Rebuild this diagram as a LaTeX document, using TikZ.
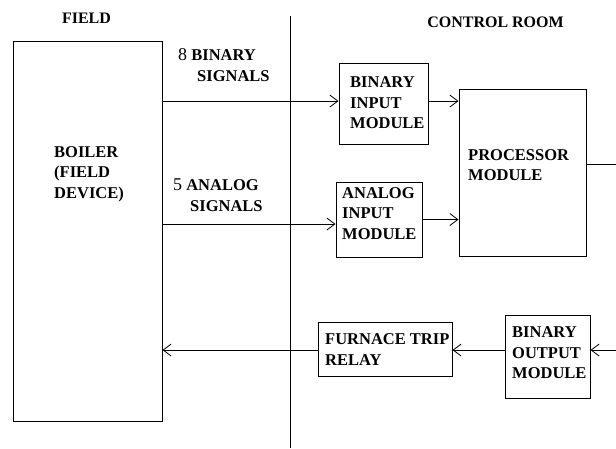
\documentclass[tikz,border=0pt]{standalone}
\usepackage{fontspec}
\setmainfont{Liberation Serif}
\usetikzlibrary{arrows.meta,calc}
\tikzset{
  box/.style={draw, line width=1pt, minimum width=#1, inner sep=0pt},
  txt/.style={font=\bfseries\fontsize{16.5}{20.5}\selectfont, align=left, anchor=west, inner sep=0pt},
  ttl/.style={font=\bfseries\fontsize{16}{18}\selectfont, inner sep=0pt},
  conn/.style={line width=1pt},
  arr/.style={line width=1pt, -{Straight Barb[length=8pt,width=12pt,line width=0.8pt]}},
}
\newcommand{\dig}[1]{{\mdseries\fontsize{18}{18}\selectfont #1}}
\begin{document}
\begin{tikzpicture}[x=1pt,y=-1pt]
\useasboundingbox (0,0) rectangle (616,448);
% titles
\node[ttl] (tfield) at (86.5,18) {FIELD};
\node[ttl] (tcr) at (495.5,22) {CONTROL ROOM};
% divider
\coordinate (dtop) at (290,16);
\coordinate (dbot) at (290,448);
\draw[conn] (dtop) -- (dbot);
% boxes
\node[box=149pt, minimum height=380pt] (boiler) at (87.5,231) {};
\node[box=89pt, minimum height=81pt] (bim) at (383.5,103.5) {};
\node[box=127pt, minimum height=167pt] (proc) at (522.5,172.5) {};
\node[box=86pt, minimum height=75pt] (aim) at (379,219.5) {};
\node[box=134pt, minimum height=54pt] (ftr) at (385,349) {};
\node[box=85pt, minimum height=83pt] (bom) at (547.5,356.5) {};
% texts
\node[txt] (tboiler) at (54,174) {BOILER\\(FIELD\\DEVICE)};
\node[txt] (tbim) at (350,103) {BINARY\\INPUT\\MODULE};
\node[txt] (tproc) at (468,165) {PROCESSOR\\MODULE};
\node[txt] (taim) at (342,213.5) {ANALOG\\INPUT\\MODULE};
\node[txt] (tftr) at (325,349.5) {FURNACE TRIP\\RELAY};
\node[txt] (tbom) at (512,353) {BINARY\\OUTPUT\\MODULE};
\node[txt] (tbs) at (178,65) {\dig{8} BINARY\\\hspace*{19pt}SIGNALS};
\node[txt] (tas) at (173,195) {\dig{5} ANALOG\\\hspace*{17pt}SIGNALS};
% connectors
\draw[arr] ([yshift=2.5pt]bim.west -| boiler.east) -- ([yshift=2.5pt]bim.west);
\draw[arr] ([yshift=-4.5pt]aim.west -| boiler.east) -- ([yshift=-4.5pt]aim.west);
\draw[arr] ([yshift=2.5pt]bim.east) -- ([yshift=2.5pt]bim.east -| proc.west);
\draw[arr] (aim.east) -- (aim.east -| proc.west);
\coordinate (pout) at (616,164);
\coordinate (pin) at (616,350);
\draw[conn] (pout -| proc.east) -- (pout);
\draw[arr] (pin) -- (pin -| bom.east);
\draw[arr] (pin -| bom.west) -- (pin -| ftr.east);
\draw[arr] (pin -| ftr.west) -- (pin -| boiler.east);
\end{tikzpicture}
\end{document}
